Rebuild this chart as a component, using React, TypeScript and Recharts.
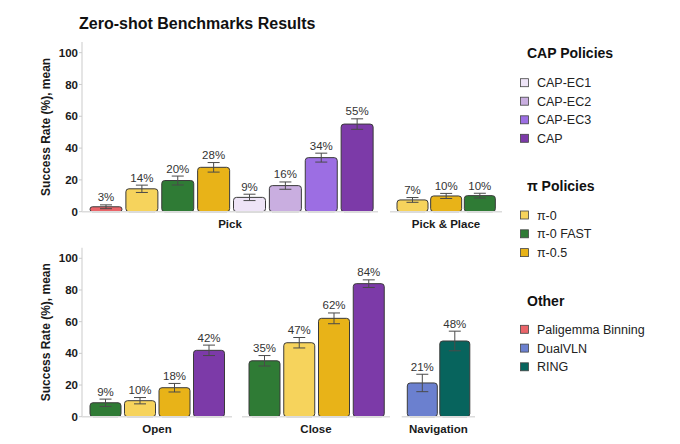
import { Bar, BarChart, Cell, ErrorBar, LabelList, XAxis, YAxis } from "recharts";

const FONT = '"Liberation Sans", Arial, sans-serif';

const COLORS: Record<string, string> = {
  "Paligemma Binning": "#ea6469",
  "π-0": "#f6d35c",
  "π-0 FAST": "#2f7b35",
  "π-0.5": "#e8b318",
  "CAP-EC1": "#eee4f7",
  "CAP-EC2": "#c9aee0",
  "CAP-EC3": "#9c6ee3",
  CAP: "#7c3aa8",
  DualVLN: "#6b80cf",
  RING: "#07645d",
};

// top row
const pickPolicies = ["Paligemma Binning", "π-0", "π-0 FAST", "π-0.5", "CAP-EC1", "CAP-EC2", "CAP-EC3", "CAP"];
const pickValues = [3.1, 14.4, 19.6, 27.9, 9.0, 16.4, 34.0, 55.1];
const pickErrors = [1.2, 2.3, 2.8, 3.0, 2.0, 2.3, 2.8, 3.3];

const pickPlacePolicies = ["π-0", "π-0.5", "π-0 FAST"];
const pickPlaceValues = [7.4, 9.9, 10.1];
const pickPlaceErrors = [1.5, 1.6, 1.5];

// bottom row
const openPolicies = ["π-0 FAST", "π-0", "π-0.5", "CAP"];
const openValues = [8.8, 10.1, 18.3, 41.9];
const openErrors = [2.3, 2.0, 2.7, 3.3];

const closePolicies = ["π-0 FAST", "π-0", "π-0.5", "CAP"];
const closeValues = [35.3, 46.7, 62.1, 84.0];
const closeErrors = [3.3, 3.3, 3.4, 2.4];

const navPolicies = ["DualVLN", "RING"];
const navValues = [21.3, 47.8];
const navErrors = [5.5, 6.2];

const yTicks = [0, 20, 40, 60, 80, 100];
const Y_MAX = 106.7;

const legendGroups = [
  { title: "CAP Policies", items: ["CAP-EC1", "CAP-EC2", "CAP-EC3", "CAP"], titleY: 58, itemY: [82.7, 101.2, 119.8, 138.3] },
  { title: "π Policies", items: ["π-0", "π-0 FAST", "π-0.5"], titleY: 191, itemY: [215, 233.8, 252.6] },
  { title: "Other", items: ["Paligemma Binning", "DualVLN", "RING"], titleY: 305.7, itemY: [329.3, 348.1, 366.8] },
];

type FacetProps = {
  label: string;
  policies: string[];
  values: number[];
  errors: number[];
  left: number;
  right: number;
  top: number;
  bottom: number;
  padLeft: number;
  padRight: number;
  barSize: number;
  showY?: boolean;
};

function Facet({ label, policies, values, errors, left, right, top, bottom, padLeft, padRight, barSize, showY }: FacetProps) {
  const rows = policies.map((policy, i) => ({ policy, value: values[i], err: errors[i] }));
  const pxPerUnit = (bottom - top) / Y_MAX;
  const yW = 40;

  return (
    <div style={{ position: "absolute", left: 0, top: 0 }}>
      <BarChart
        width={680}
        height={444}
        data={rows}
        margin={{ top, bottom: 444 - bottom - 20, left: showY ? left - yW : left, right: 680 - right }}
        barCategoryGap={0}
      >
        <XAxis
          dataKey="policy"
          tick={false}
          tickLine={false}
          axisLine={{ stroke: "#dcdcdc", strokeWidth: 1.5 }}
          height={20}
          padding={{ left: padLeft, right: padRight }}
          label={(p: any) => {
            const vb = p.viewBox || {};
            return (
              <text
                x={vb.x + vb.width / 2}
                y={vb.y + 16.7}
                textAnchor="middle"
                fontFamily={FONT}
                fontSize={11.5}
                fontWeight="bold"
                fill="#1a1a1a"
              >
                {label}
              </text>
            );
          }}
        />
        <YAxis
          hide={!showY}
          width={yW}
          domain={[0, Y_MAX]}
          ticks={yTicks}
          axisLine={{ stroke: "#dcdcdc", strokeWidth: 1.5 }}
          tickLine={{ stroke: "#cccccc" }}
          tickSize={3}
          tickMargin={1}
          tick={{ fontFamily: FONT, fontSize: 11.5, fontWeight: "bold", fill: "#1a1a1a" }}
          label={(p: any) => {
            const vb = p.viewBox || {};
            const cy = vb.y + vb.height / 2;
            return (
              <text
                x={46.5}
                y={cy}
                transform={`rotate(-90 46.5 ${cy})`}
                textAnchor="middle"
                dominantBaseline="central"
                fontFamily={FONT}
                fontSize={12}
                fontWeight="bold"
                fill="#1a1a1a"
              >
                Success Rate (%), mean
              </text>
            );
          }}
        />
        <Bar
          dataKey="value"
          barSize={barSize}
          radius={3}
          stroke="#3a3a3a"
          strokeWidth={1}
          isAnimationActive={false}
        >
          {rows.map((r) => (
            <Cell key={r.policy} fill={COLORS[r.policy]} />
          ))}
          <ErrorBar dataKey="err" width={6} stroke="#4a4a4a" strokeWidth={1} direction="y" isAnimationActive={false} />
          <LabelList
            dataKey="value"
            content={(p: any) => {
              const x = Number(p.x) + Number(p.width) / 2;
              const y = Number(p.y) - errors[p.index] * pxPerUnit - 3.5;
              return (
                <text x={x} y={y} textAnchor="middle" fontFamily={FONT} fontSize={11.5} fill="#333">
                  {`${Math.round(Number(p.value))}%`}
                </text>
              );
            }}
          />
        </Bar>
      </BarChart>
    </div>
  );
}

export default function App() {
  return (
    <div style={{ position: "absolute", left: 0, top: 0, width: 680, height: 444, background: "#fff", fontFamily: FONT }}>
      <Facet label="Pick" policies={pickPolicies} values={pickValues} errors={pickErrors}
        left={82} right={378} top={42} bottom={211.7} padLeft={6} padRight={3} barSize={32} showY />
      <Facet label="Pick & Place" policies={pickPlacePolicies} values={pickPlaceValues} errors={pickPlaceErrors}
        left={390} right={502} top={42} bottom={211.7} padLeft={6} padRight={5} barSize={31} />
      <Facet label="Open" policies={openPolicies} values={openValues} errors={openErrors}
        left={82} right={232} top={247.7} bottom={416.7} padLeft={6} padRight={6} barSize={31} showY />
      <Facet label="Close" policies={closePolicies} values={closeValues} errors={closeErrors}
        left={242} right={390} top={247.7} bottom={416.7} padLeft={5} padRight={4} barSize={31} />
      <Facet label="Navigation" policies={navPolicies} values={navValues} errors={navErrors}
        left={401.7} right={475} top={247.7} bottom={416.7} padLeft={4.6} padRight={3.7} barSize={30} />

      <svg width={680} height={444} style={{ position: "absolute", left: 0, top: 0, pointerEvents: "none" }}>
        <text x={79} y={28.5} fontFamily={FONT} fontSize={16} fontWeight="bold" fill="#111">
          Zero-shot Benchmarks Results
        </text>
        {legendGroups.map((g) => (
          <g key={g.title}>
            <text x={527} y={g.titleY} fontFamily={FONT} fontSize={14} fontWeight="bold" fill="#111">
              {g.title}
            </text>
            {g.items.map((name, i) => (
              <g key={name}>
                <rect x={520.5} y={g.itemY[i] - 4} width={8} height={8} fill={COLORS[name]} stroke="#444" strokeWidth={0.8} />
                <text x={537} y={g.itemY[i] + 4.5} fontFamily={FONT} fontSize={12.5} fill="#222">
                  {name}
                </text>
              </g>
            ))}
          </g>
        ))}
      </svg>
    </div>
  );
}
